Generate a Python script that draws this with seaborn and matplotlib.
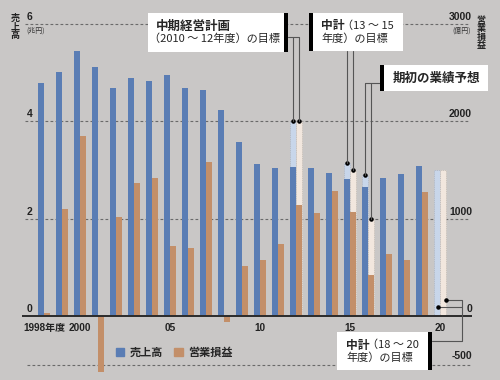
import matplotlib
matplotlib.use("Agg")
import matplotlib.pyplot as plt
import seaborn as sns
from matplotlib.patches import Rectangle, Patch

# fiscal years with actual results
years = list(range(1998, 2020))
sales = [4.78, 5.01, 5.44, 5.11, 4.68, 4.89, 4.82, 4.95, 4.68, 4.64, 4.23,
         3.58, 3.12, 3.04, 3.06, 3.04, 2.94, 2.82, 2.65, 2.84, 2.92, 3.08]
profit = [30, 1100, 1850, -570, 1020, 1370, 1420, 720, 700, 1580, -60,
          510, 580, 735, 1140, 1060, 1280, 1070, 420, 640, 580, 1275]

# plan targets / initial forecast
target_years = [2012, 2015, 2016, 2020]
target_sales = [4.0, 3.15, 2.9, 3.0]
target_profit = [2000, 1500, 1000, 1500]

tick_years = [1998, 2000, 2005, 2010, 2015, 2020]
tick_labels = ["1998年度", "2000", "05", "10", "15", "20"]
left_ticks = [0, 2, 4, 6]
right_ticks = [-500, 0, 1000, 2000, 3000]

series = ["売上高", "営業損益"]
BG = "#c9c7c6"
BLUE = "#5a7db4"
ORANGE = "#c38f69"
LBLUE = "#c8d6ea"
LORANGE = "#f2e7de"
GRID = "#6a6a6a"

sns.set_theme(style="white")
CJK = ["Noto Sans CJK JP", "DejaVu Sans"]
NUM = ["Liberation Sans Narrow", "Liberation Sans", "DejaVu Sans"]
plt.rcParams["font.family"] = CJK

fig = plt.figure(figsize=(5, 3.8), dpi=100)
fig.patch.set_facecolor(BG)


def py2y(py):
    return (316 - py) / 48.7


def px2x(px):
    return 1998 + (px - 44) / 18


ax = fig.add_axes([22 / 500, 4 / 380, 450 / 500, 372 / 380])
ax.set_facecolor("none")
ax2 = ax.twinx()
ax.set_xlim(px2x(22), px2x(472))
ax.set_ylim(py2y(376), py2y(4))
ax2.set_ylim(py2y(376) * 500, py2y(4) * 500)

pal = {series[0]: BLUE, series[1]: ORANGE}
lpal = {series[0]: LBLUE, series[1]: LORANGE}
common = dict(hue_order=series, native_scale=True, width=0.67, dodge=True,
              saturation=1, legend=False, errorbar=None)

# light target bars behind actual bars
sns.barplot(x=target_years, y=target_sales, hue=[series[0]] * len(target_years),
            palette=lpal, ax=ax, edgecolor="#9fa9b8", linewidth=0.5, linestyle=":", **common)
sns.barplot(x=target_years, y=target_profit, hue=[series[1]] * len(target_years),
            palette=lpal, ax=ax2, edgecolor="#b9aea4", linewidth=0.5, linestyle=":", **common)
sns.barplot(x=years, y=sales, hue=[series[0]] * len(years), palette=pal, ax=ax,
            linewidth=0, **common)
sns.barplot(x=years, y=profit, hue=[series[1]] * len(years), palette=pal, ax=ax2,
            linewidth=0, **common)
ax.set_xlim(px2x(22), px2x(472))

# grid lines
for v in left_ticks[1:]:
    ax.axhline(v, xmin=3 / 450, xmax=448 / 450, color=GRID, lw=0.8,
               ls=(0, (2.5, 2)), zorder=0.5)
ax2.axhline(-500, xmin=5 / 450, xmax=448 / 450, color=GRID, lw=0.8,
            ls=(0, (2.5, 2)), zorder=0.5)
ax2.axhline(0, color="#2b2b2b", lw=1.4, zorder=3)

for a in (ax, ax2):
    for s in a.spines.values():
        s.set_visible(False)
    a.set_yticks([])
    a.set_xlabel("")
    a.set_ylabel("")
ax.spines["bottom"].set_position(("data", 0))
ax.set_xticks(tick_years, tick_labels)
ax.tick_params(axis="x", length=0, pad=5)
for t in ax.get_xticklabels():
    t.set_fontfamily(NUM + CJK[:1])
    t.set_fontweight("bold")
    t.set_fontsize(7.2)
    t.set_color("#222222")

# target dots
off = 0.67 / 4
ax.scatter([y - off for y in target_years[:3]], target_sales[:3], s=5, color="black", zorder=5)
ax2.scatter([y + off for y in target_years[:3]], target_profit[:3], s=5, color="black", zorder=5)

# overlay in pixel coordinates for labels and callouts
ov = fig.add_axes([0, 0, 1, 1])
ov.set_xlim(0, 500)
ov.set_ylim(380, 0)
ov.axis("off")
ov.patch.set_alpha(0)


def to_px(a, x, y):
    d = a.transData.transform((x, y))
    return ov.transData.inverted().transform(d)


num_kw = dict(family=NUM, weight="bold", fontsize=7.5, color="#222222")
for v in left_ticks:
    ov.text(27, 316 - v * 48.7 - 7, str(v), ha="left", va="center", **num_kw)
for v in right_ticks:
    ov.text(472, 316 - v / 500 * 48.7 - (9 if v == -500 else 7), str(v),
            ha="right", va="center", **num_kw)

ov.text(15, 27, "売\n上\n高", ha="center", va="center", fontsize=6.5,
        weight="bold", linespacing=0.95, color="#222222")
ov.text(26, 31, "(兆円)", ha="left", va="center", fontsize=5, color="#333333")
ov.text(481, 33, "営\n業\n損\n益", ha="center", va="center", fontsize=6.5,
        weight="bold", linespacing=0.95, color="#222222")
ov.text(471, 31, "(億円)", ha="right", va="center", fontsize=5, color="#333333")


def box(x0, y0, x1, y1, bar_side):
    ov.add_patch(Rectangle((x0, y0), x1 - x0, y1 - y0, facecolor="white",
                           edgecolor="none", zorder=4))
    bx = x1 if bar_side == "right" else x0 - 4
    ov.add_patch(Rectangle((bx, y0), 4, y1 - y0, facecolor="black",
                           edgecolor="none", zorder=4))


lk = dict(color="#555555", lw=0.8, zorder=3)

# box 1: 2010-12 plan
box(148, 13, 284, 52, "right")
ov.text(156, 26, "中期経営計画", fontsize=9, weight="bold", va="center", zorder=5)
ov.text(149, 39, "（2010 ～ 12年度）の目標", fontsize=8, va="center", zorder=5)
b1 = to_px(ax, 2012 - off, target_sales[0])
o1 = to_px(ax2, 2012 + off, target_profit[0])
ov.plot([288, o1[0], o1[0]], [37, 37, o1[1]], **lk)
ov.plot([b1[0], b1[0]], [37, b1[1]], **lk)

# box 2: 13-15 plan
box(313, 13, 403, 51, "left")
ov.text(321, 26, "中計", fontsize=8.5, weight="bold", va="center", zorder=5)
ov.text(342, 26, "（13 ～ 15", fontsize=8, va="center", zorder=5)
ov.text(321, 39, "年度）の目標", fontsize=8, va="center", zorder=5)
b2 = to_px(ax, 2015 - off, target_sales[1])
o2 = to_px(ax2, 2015 + off, target_profit[1])
ov.plot([b2[0], b2[0]], [51, b2[1]], **lk)
ov.plot([o2[0], o2[0]], [51, o2[1]], **lk)

# box 3: initial forecast
box(384, 65, 488, 91, "left")
ov.text(393, 78, "期初の業績予想", fontsize=9, weight="bold", va="center", zorder=5)
b3 = to_px(ax, 2016 - off, target_sales[2])
o3 = to_px(ax2, 2016 + off, target_profit[2])
ov.plot([380, b3[0], b3[0]], [83, 83, b3[1]], **lk)
ov.plot([o3[0], o3[0]], [83, o3[1]], **lk)

# box 4: 18-20 plan
box(337, 332, 428, 370, "right")
ov.text(346, 345, "中計", fontsize=8.5, weight="bold", va="center", zorder=5)
ov.text(367, 345, "（18 ～ 20", fontsize=8, va="center", zorder=5)
ov.text(346, 358, "年度）の目標", fontsize=8, va="center", zorder=5)
ov.plot([446, 462, 462, 432], [300, 300, 341, 341], **lk)
ov.plot([438, 462], [307, 307], **lk)
ov.scatter([438, 446], [307, 300], s=5, color="black", zorder=5)

fig.legend(handles=[Patch(color=BLUE), Patch(color=ORANGE)], labels=series,
           loc="center left", bbox_to_anchor=(116 / 500, 1 - 352 / 380), ncol=2,
           frameon=False, handlelength=0.75, handleheight=0.75, handletextpad=0.5,
           columnspacing=1.0, borderpad=0, borderaxespad=0,
           prop={"family": CJK, "size": 8, "weight": "bold"})

fig.savefig("out.png", dpi=100, facecolor=BG)
